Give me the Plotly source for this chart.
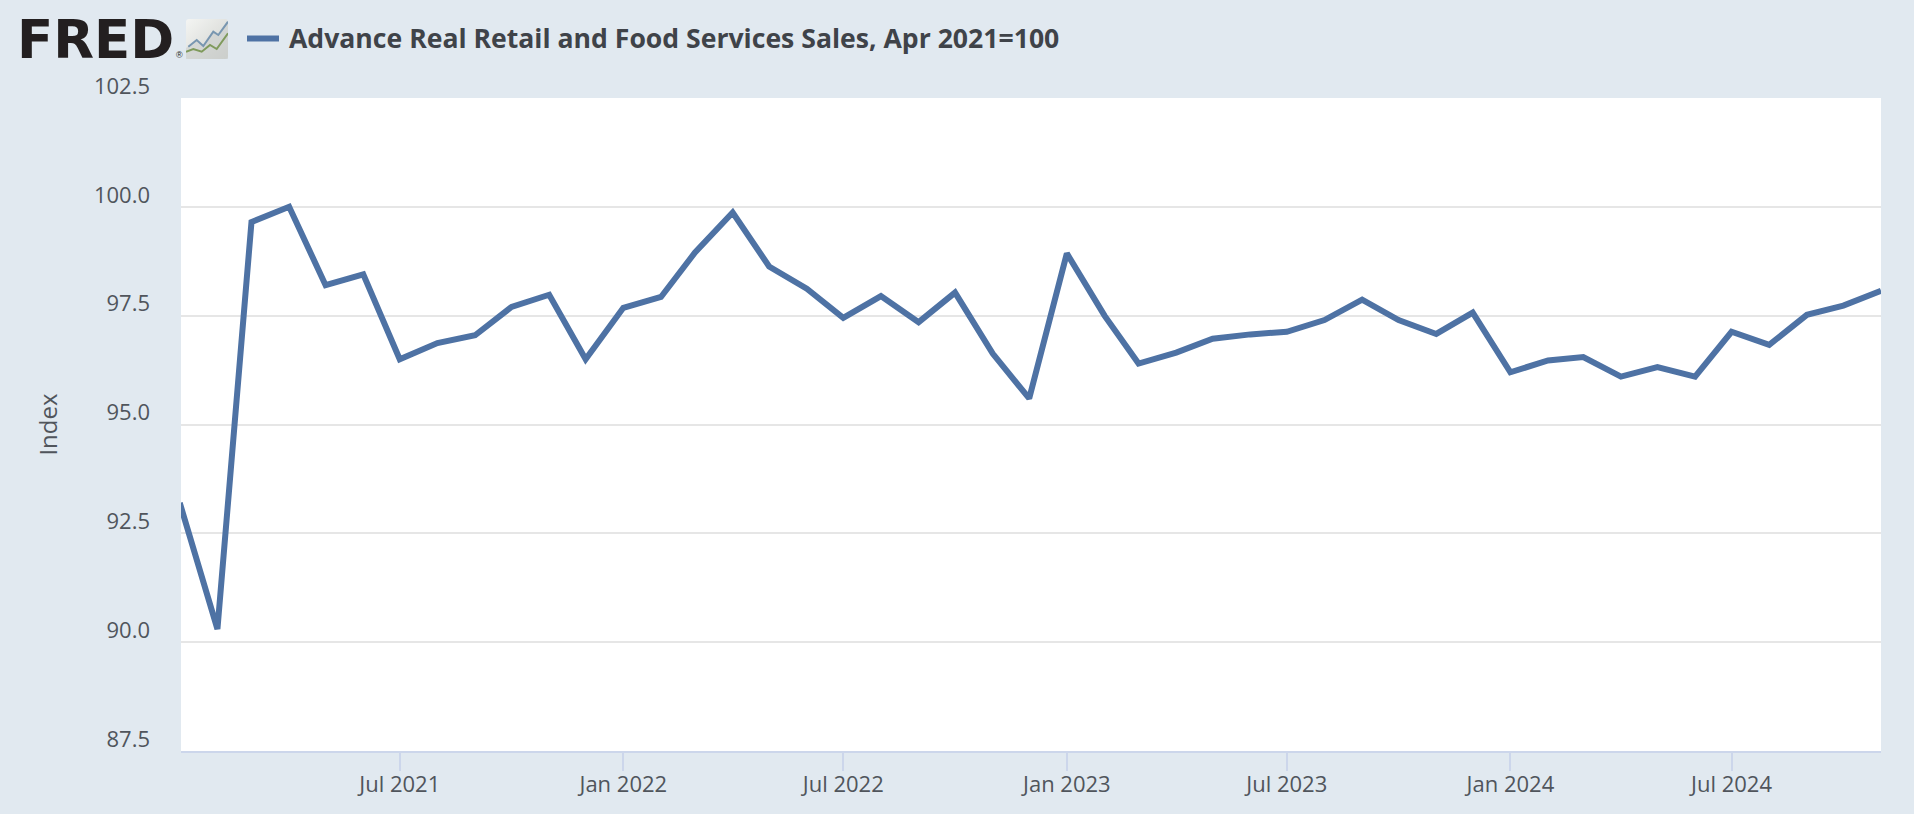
import base64
import plotly.graph_objects as go
import pandas as pd

W, H = 1914, 814
dates = pd.date_range("2021-01-01", "2024-11-01", freq="MS").strftime("%Y-%m-%d").tolist()
index_values = [
    93.2, 90.3, 99.65, 100.0, 98.2, 98.45, 96.5, 96.87, 97.05, 97.7, 97.98, 96.5,
    97.68, 97.93, 98.95, 99.87, 98.63, 98.12, 97.45, 97.95, 97.35, 98.03, 96.63, 95.6,
    98.93, 97.5, 96.4, 96.65, 96.97, 97.07, 97.13, 97.4, 97.87, 97.4, 97.08, 97.57,
    96.2, 96.47, 96.55, 96.1, 96.32, 96.1, 97.13, 96.83, 97.52, 97.73, 98.07,
]
series_name = "Advance Real Retail and Food Services Sales, Apr 2021=100"
y_ticks = [87.5, 90.0, 92.5, 95.0, 97.5, 100.0, 102.5]
x_ticks = ["2021-07-01", "2022-01-01", "2022-07-01", "2023-01-01", "2023-07-01", "2024-01-01", "2024-07-01"]
x_labels = ["Jul 2021", "Jan 2022", "Jul 2022", "Jan 2023", "Jul 2023", "Jan 2024", "Jul 2024"]

BG = "#e1e9f0"
LINE = "#4e72a4"
TEXT = "#50555c"
L, R, T, B = 181, 1881, 98, 751

icon_svg = """<svg xmlns='http://www.w3.org/2000/svg' width='42' height='40' viewBox='0 0 42 40'>
<defs><linearGradient id='g' x1='0' y1='0' x2='1' y2='1'><stop offset='0' stop-color='#f4f5f3'/><stop offset='1' stop-color='#cfd1cd'/></linearGradient></defs>
<rect width='42' height='40' rx='3' fill='url(#g)'/>
<polygon points='0,29 10.7,21 17.3,27 27.3,12.7 32.3,16 42,3 42,40 0,40' fill='#c9ccca' opacity='0.55'/>
<polyline points='2.3,27.7 10.7,21 17.3,27 27.3,12.7 32.3,16 42,2.7' fill='none' stroke='#7896b0' stroke-width='2'/>
<polyline points='0,32.7 7.3,30 15.7,32.7 24,26 30.7,30 42,14.3' fill='none' stroke='#7f9a5c' stroke-width='2'/>
</svg>"""
icon_uri = "data:image/svg+xml;base64," + base64.b64encode(icon_svg.encode()).decode()

fig = go.Figure()
fig.add_trace(go.Scatter(x=dates, y=index_values, mode="lines", name=series_name,
                         line=dict(color=LINE, width=6, shape="linear"), showlegend=False,
                         hoverinfo="x+y"))
fig.update_layout(
    width=W, height=H,
    margin=dict(l=L, r=W - R, t=T, b=H - B, pad=0),
    paper_bgcolor=BG, plot_bgcolor="#ffffff",
    font=dict(family="Open Sans", size=22, color=TEXT),
    xaxis=dict(range=["2021-01-02", "2024-11-01"], tickmode="array", tickvals=x_ticks, ticktext=x_labels,
               showgrid=False, zeroline=False, showline=True, linecolor="#ccd6eb", linewidth=2,
               ticks="outside", ticklen=18, tickwidth=1.5, tickcolor="#ccd6eb",
               ticklabelstandoff=-5, tickfont=dict(size=22, color=TEXT)),
    yaxis=dict(range=[87.5, 102.5], tickmode="array", tickvals=y_ticks,
               ticktext=[f"{v:.1f}" for v in y_ticks],
               showgrid=True, gridcolor="#e6e6e6", gridwidth=1.5, zeroline=False, showline=False,
               ticks="", ticklabelshift=-12, ticklabelstandoff=30,
               tickfont=dict(size=22, color=TEXT),
               title=dict(text="Index", standoff=29, font=dict(size=24, color=TEXT))),
    images=[dict(source=icon_uri, xref="paper", yref="paper", x=(186 - L) / (R - L), y=(B - 19) / (B - T),
                 sizex=42 / (R - L), sizey=40 / (B - T), xanchor="left", yanchor="top", layer="above")],
    shapes=[dict(type="rect", xref="paper", yref="paper", x0=(247 - L) / (R - L), x1=(279 - L) / (R - L),
                 y0=(B - 35.5) / (B - T), y1=(B - 41.5) / (B - T), fillcolor=LINE, line=dict(width=0))],
    annotations=[
        dict(text="<b>FRED</b>", xref="paper", yref="paper", x=(16 - L) / (R - L), y=(B - 39) / (B - T),
             xanchor="left", yanchor="middle", showarrow=False, borderpad=0,
             font=dict(family="DejaVu Sans", size=53, color="#231f20")),
        dict(text="®", xref="paper", yref="paper", x=(175 - L) / (R - L), y=(B - 55) / (B - T),
             xanchor="left", yanchor="middle", showarrow=False, borderpad=0,
             font=dict(family="Liberation Sans", size=9, color="#231f20")),
        dict(text=f"<b>{series_name}</b>", xref="paper", yref="paper", x=(287 - L) / (R - L), y=(B - 38) / (B - T),
             xanchor="left", yanchor="middle", showarrow=False,
             font=dict(family="Open Sans", size=26.6, color="#3f4349")),
    ],
)
fig.write_html("out.html", config=dict(displayModeBar=False),
               post_script="document.body.style.margin='0';document.body.style.overflow='hidden';")
